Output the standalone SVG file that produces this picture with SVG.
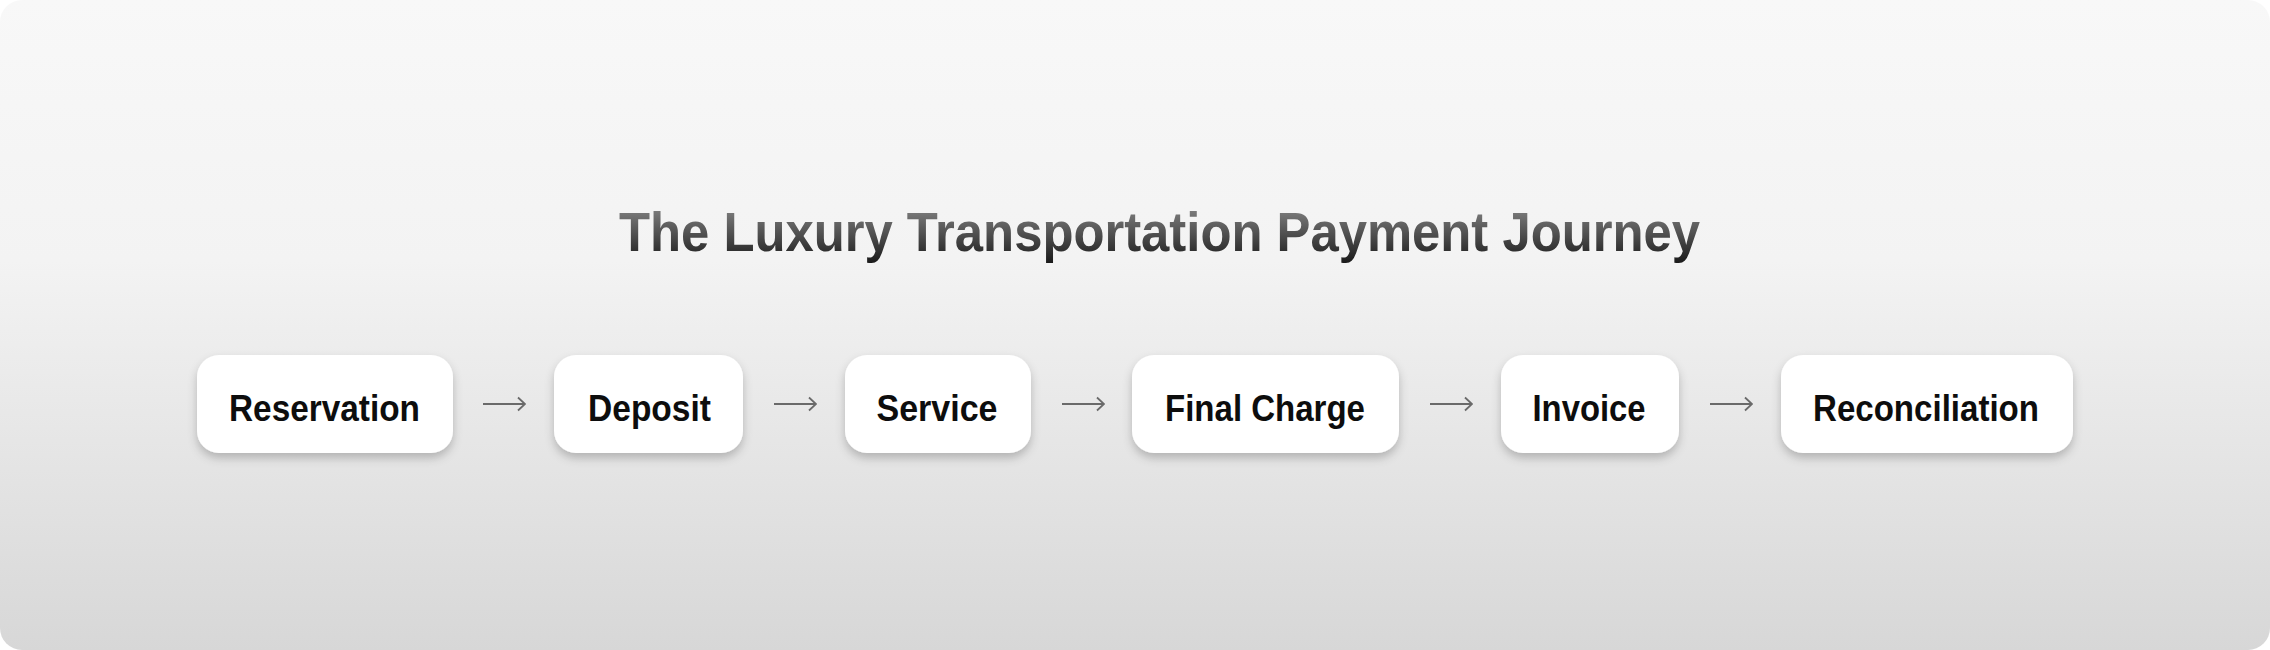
<svg xmlns="http://www.w3.org/2000/svg" width="2270" height="650" viewBox="0 0 2270 650">
<defs>
<linearGradient id="bg" x1="0" y1="0" x2="0" y2="1">
<stop offset="0" stop-color="#f8f8f8"/>
<stop offset="0.4" stop-color="#f3f3f3"/>
<stop offset="1" stop-color="#d7d7d7"/>
</linearGradient>
<linearGradient id="tg" x1="0" y1="0" x2="0" y2="1">
<stop offset="0" stop-color="#8c8c8c"/>
<stop offset="1" stop-color="#1a1a1a"/>
</linearGradient>
<filter id="sh" x="-20%" y="-30%" width="140%" height="170%">
<feDropShadow dx="0" dy="5" stdDeviation="5" flood-color="#000" flood-opacity="0.22"/>
</filter>
<marker id="ah" viewBox="0 0 10 16" refX="9" refY="8" markerWidth="10" markerHeight="16" markerUnits="userSpaceOnUse" orient="auto">
<path d="M2,1.5 L9,8 L2,14.5" fill="none" stroke="#6a6a6a" stroke-width="1.8"/>
</marker>
</defs>
<style>
.box{fill:#ffffff;filter:url(#sh)}
.lbl{font-family:"Liberation Sans",Arial,sans-serif;font-weight:bold;font-size:37px;fill:#0d0d0d;text-anchor:middle}
.title{font-family:"Liberation Sans",Arial,sans-serif;font-weight:bold;font-size:55px;fill:url(#tg)}
.arr{stroke:#6a6a6a;stroke-width:1.8;fill:none;marker-end:url(#ah)}
</style>
<rect x="0" y="0" width="2270" height="650" rx="22" fill="url(#bg)"/>
<text class="title" x="619" y="251" textLength="1081" lengthAdjust="spacingAndGlyphs">The Luxury Transportation Payment Journey</text>
<g id="connectors">
<line class="arr" x1="483" y1="404" x2="525" y2="404"/>
<line class="arr" x1="774" y1="404" x2="816" y2="404"/>
<line class="arr" x1="1062" y1="404" x2="1104" y2="404"/>
<line class="arr" x1="1430" y1="404" x2="1472" y2="404"/>
<line class="arr" x1="1710" y1="404" x2="1752" y2="404"/>
</g>
<g id="reservation"><rect class="box" x="197" y="355" width="256" height="98" rx="22"/><text class="lbl" x="324.5" y="421" textLength="191" lengthAdjust="spacingAndGlyphs">Reservation</text></g>
<g id="deposit"><rect class="box" x="554" y="355" width="189" height="98" rx="22"/><text class="lbl" x="649.5" y="421" textLength="123" lengthAdjust="spacingAndGlyphs">Deposit</text></g>
<g id="service"><rect class="box" x="845" y="355" width="186" height="98" rx="22"/><text class="lbl" x="937" y="421" textLength="121" lengthAdjust="spacingAndGlyphs">Service</text></g>
<g id="final-charge"><rect class="box" x="1132" y="355" width="267" height="98" rx="22"/><text class="lbl" x="1265" y="421" textLength="200" lengthAdjust="spacingAndGlyphs">Final Charge</text></g>
<g id="invoice"><rect class="box" x="1501" y="355" width="178" height="98" rx="22"/><text class="lbl" x="1589" y="421" textLength="113" lengthAdjust="spacingAndGlyphs">Invoice</text></g>
<g id="reconciliation"><rect class="box" x="1781" y="355" width="292" height="98" rx="22"/><text class="lbl" x="1926" y="421" textLength="226" lengthAdjust="spacingAndGlyphs">Reconciliation</text></g>
</svg>
